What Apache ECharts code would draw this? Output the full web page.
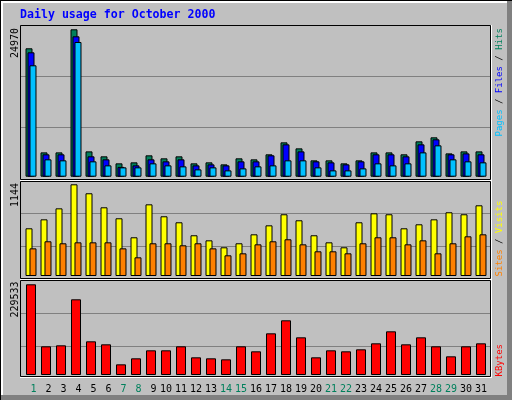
<!DOCTYPE html>
<html><head><meta charset="utf-8">
<script src="https://cdn.jsdelivr.net/npm/echarts@6/dist/echarts.min.js"></script>
<style>html,body{margin:0;padding:0;background:#C0C0C0}#c{width:512px;height:400px}</style>
</head><body><div id="c"></div>
<script>
// ---- data ----
const titleText = 'Daily usage for October 2000';
const days = ['1','2','3','4','5','6','7','8','9','10','11','12','13','14','15','16','17','18','19','20','21','22','23','24','25','26','27','28','29','30','31'];
const weekendDays = ['1','7','8','14','15','21','22','28','29'];
const hits   = [21750,4120,4120,24970,4290,3450,2260,2430,3620,3110,3450,2260,2430,2090,3110,2940,3790,5820,4800,2770,2770,2260,2770,4120,4120,3790,5990,6670,3950,4290,4290];
const files  = [21070,3790,3790,23780,3450,2940,1660,1920,2940,2600,2940,1920,2090,1920,2600,2600,3620,5480,4290,2600,2430,2090,2600,3790,3790,3450,5480,6330,3790,3950,3790];
const pages  = [18870,2940,2770,22820,2600,1920,1580,1580,2260,1920,1750,1240,1580,1070,1410,1750,1920,2770,2770,1580,1070,1070,1410,2260,1920,2260,4120,5310,2940,2600,2430];
const visits = [595,707,844,1144,1032,857,720,483,894,745,670,508,445,358,408,520,632,770,695,508,420,358,670,782,770,595,645,707,795,770,882];
const sites  = [345,433,408,420,420,420,345,233,408,408,383,408,345,258,283,395,433,458,395,308,308,283,408,483,483,395,445,283,408,495,520];
const kbytes = [229533,72580,75110,191570,85230,77640,27000,42200,62450,62450,72580,44730,42200,39660,72580,59920,105490,138400,95360,44730,62450,59920,64980,80170,110550,77640,95360,72580,47260,72580,80170];

// ---- layout ----
const MONO = 'DejaVu Sans Mono';
const C = {hits:'#00805C', files:'#0000FF', pages:'#00C0FF', visits:'#FFFF00', sites:'#FF8000', kbytes:'#FF0000', grid:'#808080'};
// gridTop, gridBottom, baseline, pixel where max bar ends
const P = [
  {top:25.3, bottom:178.3, base:176.7, maxTop:29.3, maxV: Math.max(...hits)},
  {top:180.3, bottom:279.3, base:276.0, maxTop:184.3, maxV: Math.max(...visits)},
  {top:280.3, bottom:379.3, base:375.0, maxTop:284.3, maxV: Math.max(...kbytes)}
];
P.forEach(p => {
  const k = p.maxV / (p.base - p.maxTop);
  p.ymax = (p.base - p.top) * k;
  p.ymin = -(p.bottom - p.base) * k;
});

const chart = echarts.init(document.getElementById('c'), null, {renderer:'canvas', width:512, height:400});

const grids = [];
P.forEach(p => grids.push({left:23.5, width:465, top:p.top, height:p.bottom - p.top}));
P.forEach(p => grids.push({left:20.5, width:470, top:p.top, height:p.bottom - p.top}));

const xAxes = grids.map((g, i) => ({
  type:'category', gridIndex:i, data:days, show: i === 2,
  axisLine:{show:false}, axisTick:{show:false},
  axisLabel: i === 2 ? {
    interval:0, margin:5,
    formatter: v => '{' + (weekendDays.includes(v) ? 'g' : 'k') + (v.length === 1 ? '1' : '2') + '|' + v + '}',
    rich: {
      k1:{color:'#000', fontFamily:MONO, fontSize:10, padding:[0,0,0,5]},
      k2:{color:'#000', fontFamily:MONO, fontSize:10},
      g1:{color:C.hits, fontFamily:MONO, fontSize:10, padding:[0,0,0,5]},
      g2:{color:C.hits, fontFamily:MONO, fontSize:10}
    }
  } : {show:false}
}));

const yAxes = [];
P.forEach((p, i) => yAxes.push({type:'value', gridIndex:i, min:p.ymin, max:p.ymax, show:false, splitLine:{show:false}}));
P.forEach((p, i) => yAxes.push({
  type:'value', gridIndex:i + 3, min:0, max:3, interval:1,
  axisLine:{show:false}, axisTick:{show:false}, axisLabel:{show:false},
  splitLine:{show:true, showMinLine:false, showMaxLine:false, lineStyle:{color:C.grid, width:1}}
}));

function bar(data, color, ax, w, gap) {
  return {type:'bar', xAxisIndex:ax, yAxisIndex:ax, data, barWidth:w, barGap:gap, silent:true,
    itemStyle:{color, borderColor:'#000', borderWidth:1}};
}

const series = [
  bar(hits, C.hits, 0, 7, '-71.43%'),
  bar(files, C.files, 0, 7, '-71.43%'),
  bar(pages, C.pages, 0, 7, '-71.43%'),
  bar(visits, C.visits, 1, 7, '-42.86%'),
  bar(sites, C.sites, 1, 7, '-42.86%'),
  bar(kbytes, C.kbytes, 2, 10, '0%')
];

const g = [];
// outer bevel
g.push({type:'rect', shape:{x:507, y:0, width:5, height:400}, style:{fill:'#808080'}, z:50});
g.push({type:'rect', shape:{x:0, y:395, width:512, height:5}, style:{fill:'#808080'}, z:50});
g.push({type:'rect', shape:{x:1, y:1, width:506, height:2}, style:{fill:'#FFFFFF'}, z:50});
g.push({type:'rect', shape:{x:1, y:1, width:2, height:394}, style:{fill:'#FFFFFF'}, z:50});
g.push({type:'rect', shape:{x:0, y:0, width:512, height:1}, style:{fill:'#000'}, z:51});
g.push({type:'rect', shape:{x:0, y:0, width:1, height:400}, style:{fill:'#000'}, z:51});
// panel frames
const frames = [[25.5, 179.5], [181.5, 278.5], [280.5, 376.5]];
frames.forEach(f => {
  g.push({type:'rect', shape:{x:20.5, y:f[0], width:470, height:f[1] - f[0]}, style:{fill:null, stroke:'#000', lineWidth:1}, z:40});
  g.push({type:'line', shape:{x1:20, y1:f[1] + 1, x2:492, y2:f[1] + 1}, style:{stroke:'#FFFFFF', lineWidth:1}, z:40});
  g.push({type:'line', shape:{x1:491.5, y1:f[0] - 0.5, x2:491.5, y2:f[1] + 1.5}, style:{stroke:'#FFFFFF', lineWidth:1}, z:40});
});
// max value labels (rotated)
const maxTops = [28, 183, 281.5];
P.forEach((p, i) => {
  g.push({type:'text', x:15.5, y:maxTops[i], rotation:Math.PI / 2, z:45,
    style:{text:String(p.maxV), font:'10px ' + MONO, fill:'#000', align:'right', verticalAlign:'middle'}});
});
// right side legends (rotated)
const legendFont = {fontFamily:MONO, fontSize:9};
g.push({type:'text', x:499.5, y:136.5, rotation:Math.PI / 2, z:45,
  style:{text:'{p|Pages} {k|/} {f|Files} {k|/} {h|Hits}', font:'9px ' + MONO, fill:'#000', align:'left', verticalAlign:'middle',
    rich:{p:Object.assign({fill:C.pages}, legendFont), k:Object.assign({fill:'#000'}, legendFont), f:Object.assign({fill:C.files}, legendFont), h:Object.assign({fill:C.hits}, legendFont)}}});
g.push({type:'text', x:499.5, y:276.5, rotation:Math.PI / 2, z:45,
  style:{text:'{s|Sites} {k|/} {v|Visits}', font:'9px ' + MONO, fill:'#000', align:'left', verticalAlign:'middle',
    rich:{s:Object.assign({fill:C.sites}, legendFont), k:Object.assign({fill:'#000'}, legendFont), v:Object.assign({fill:C.visits}, legendFont)}}});
g.push({type:'text', x:499.5, y:376.5, rotation:Math.PI / 2, z:45,
  style:{text:'KBytes', font:'9px ' + MONO, fill:C.kbytes, align:'left', verticalAlign:'middle'}});

chart.setOption({
  animation:false,
  backgroundColor:'#C0C0C0',
  title:{text:titleText, left:20, top:9, padding:0,
    textStyle:{color:'#0000FF', fontFamily:MONO, fontSize:11.6, fontWeight:'bold'}},
  grid:grids, xAxis:xAxes, yAxis:yAxes, series, graphic:g
});
</script></body></html>
